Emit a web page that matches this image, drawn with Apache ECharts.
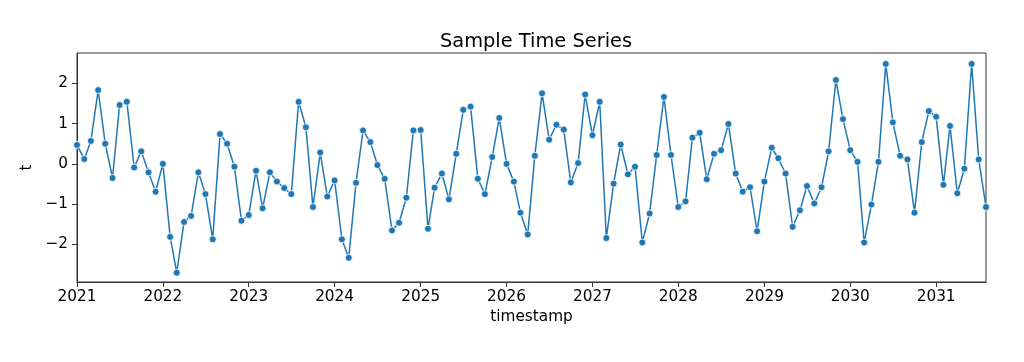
<!DOCTYPE html>
<html>
<head>
<meta charset="utf-8">
<script src="https://cdn.jsdelivr.net/npm/echarts@6/dist/echarts.min.js"></script>
<style>html,body{margin:0;padding:0;background:#fff;}#c{width:1024px;height:362px;}</style>
</head>
<body>
<div id="c"></div>
<script>
// Monthly series starting 2021-01, 128 points (to 2031-08)
const startYear = 2021;
const values = [
  0.47, 0.12, 0.57, 1.83, 0.50, -0.35, 1.46, 1.54, -0.09, 0.31, -0.21, -0.69,
  0.00, -1.81, -2.70, -1.44, -1.29, -0.21, -0.75, -1.87, 0.74, 0.50, -0.07, -1.41,
  -1.27, -0.17, -1.10, -0.21, -0.44, -0.60, -0.75, 1.54, 0.91, -1.07, 0.28, -0.81,
  -0.41, -1.87, -2.33, -0.47, 0.83, 0.54, -0.03, -0.37, -1.65, -1.46, -0.84, 0.83,
  0.84, -1.61, -0.59, -0.24, -0.88, 0.25, 1.34, 1.42, -0.37, -0.75, 0.17, 1.14,
  0.00, -0.44, -1.21, -1.75, 0.20, 1.75, 0.60, 0.97, 0.85, -0.46, 0.02, 1.72,
  0.71, 1.54, -1.84, -0.49, 0.48, -0.26, -0.07, -1.95, -1.23, 0.22, 1.66, 0.22,
  -1.07, -0.93, 0.65, 0.77, -0.38, 0.25, 0.34, 0.99, -0.24, -0.69, -0.58, -1.67,
  -0.44, 0.40, 0.14, -0.24, -1.56, -1.15, -0.55, -0.98, -0.58, 0.31, 2.08, 1.11,
  0.34, 0.05, -1.95, -1.01, 0.05, 2.48, 1.03, 0.20, 0.11, -1.21, 0.54, 1.31,
  1.17, -0.52, 0.94, -0.73, -0.12, 2.48, 0.11, -1.07
];
const yearTicks = [2021, 2022, 2023, 2024, 2025, 2026, 2027, 2028, 2029, 2030, 2031];
const yTicks = [-2, -1, 0, 1, 2];

const points = values.map((v, i) => {
  const y = startYear + Math.floor(i / 12);
  const m = i % 12;
  return [Date.UTC(y, m, 1), v];
});
const xMin = points[0][0];
const xMax = points[points.length - 1][0];
const yearTs = yearTicks.map(y => Date.UTC(y, 0, 1));

const chart = echarts.init(document.getElementById('c'), null, {renderer: 'canvas'});
const font = 'DejaVu Sans';
chart.setOption({
  backgroundColor: '#fff',
  animation: false,
  title: {
    text: 'Sample Time Series',
    left: 531, top: 27, textAlign: 'center',
    textStyle: {fontFamily: font, fontSize: 19.4, fontWeight: 'normal', color: '#000'}
  },
  grid: {left: 77, right: 38, top: 53, bottom: 80, show: true, borderColor: '#333', borderWidth: 1, containLabel: false},
  xAxis: {
    type: 'value', min: xMin, max: xMax, scale: true,
    name: 'timestamp', nameLocation: 'middle', nameGap: 28,
    nameTextStyle: {fontFamily: font, fontSize: 15.3, color: '#000'},
    axisLine: {show: true, onZero: false, lineStyle: {color: '#333', width: 1}},
    axisTick: {show: true, inside: false, length: 5, lineStyle: {color: '#333'}, customValues: yearTs},
    axisLabel: {
      fontFamily: font, fontSize: 15.3, color: '#000', margin: 8,
      customValues: yearTs,
      formatter: v => String(new Date(v).getUTCFullYear())
    },
    splitLine: {show: false}
  },
  yAxis: {
    type: 'value', min: -2.93, max: 2.75,
    name: 't', nameLocation: 'middle', nameGap: 38,
    nameTextStyle: {fontFamily: font, fontSize: 15.3, color: '#000'},
    axisLine: {show: true, onZero: false, lineStyle: {color: '#333', width: 1}},
    axisTick: {show: true, inside: false, length: 5, lineStyle: {color: '#333'}, customValues: yTicks},
    axisLabel: {fontFamily: font, fontSize: 15.3, color: '#000', margin: 9, customValues: yTicks,
      formatter: v => (v < 0 ? '\u2212' + Math.abs(v) : String(v))},
    splitLine: {show: false}
  },
  series: [{
    type: 'line',
    data: points,
    symbol: 'circle', symbolSize: 7,
    showAllSymbol: true,
    clip: true,
    lineStyle: {color: '#1f77b4', width: 1.5},
    itemStyle: {color: '#1f77b4', borderColor: '#fff', borderWidth: 0.8}
  }]
});
</script>
</body>
</html>
